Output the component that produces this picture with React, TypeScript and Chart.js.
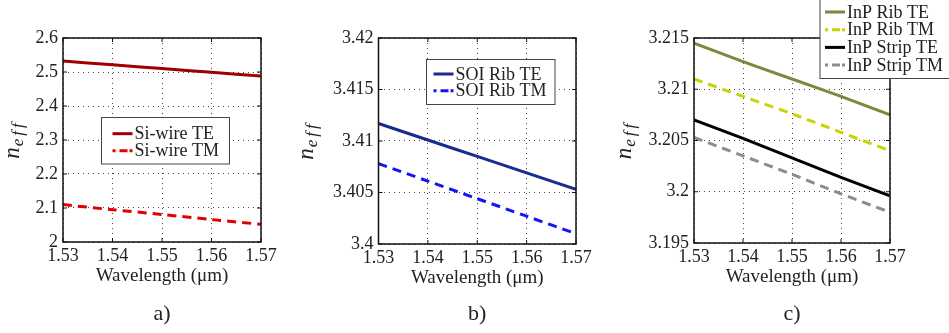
import React, { useEffect, useRef } from "react";
import { Chart, registerables } from "chart.js";
Chart.register(...registerables);

// ---------- data ----------
const wavelengths = [1.53, 1.54, 1.55, 1.56, 1.57];

const siWireTE = [2.532, 2.521, 2.510, 2.499, 2.488];
const siWireTM = [2.110, 2.095, 2.081, 2.066, 2.052];

const soiRibTE = [3.4117, 3.4101, 3.4085, 3.4069, 3.4053];
const soiRibTM = [3.4078, 3.4061, 3.4044, 3.4027, 3.4010];

const inpRibTE = [3.2145, 3.2127, 3.2110, 3.2093, 3.2075];
const inpRibTM = [3.2110, 3.2093, 3.2076, 3.2058, 3.2040];
const inpStripTE = [3.2070, 3.2052, 3.2033, 3.2014, 3.1996];
const inpStripTM = [3.2053, 3.2035, 3.2017, 3.1998, 3.1980];

const xLabel = "Wavelength (μm)";
const panelLabels = ["a)", "b)", "c)"];

// ---------- styling ----------
const FONT = "'Liberation Serif', 'Times New Roman', serif";
const W = 949;
const H = 333;

type Series = { label: string; data: number[]; color: string; dash: number[] };
type Panel = {
  series: Series[];
  yMin: number;
  yMax: number;
  yStep: number;
  area: { l: number; t: number; r: number; b: number };
  legend: { x: number; y: number; w: number; h: number; rows: number[]; sx: number };
  yTitleX: number;
  sub: string;
};

const DASH = [9, 6];

const panels: Panel[] = [
  {
    series: [
      { label: "Si-wire TE", data: siWireTE, color: "#a00000", dash: [] },
      { label: "Si-wire TM", data: siWireTM, color: "#e00000", dash: DASH },
    ],
    yMin: 2, yMax: 2.6, yStep: 0.1,
    area: { l: 63, t: 38, r: 261, b: 242 },
    legend: { x: 101.5, y: 117.5, w: 128, h: 46.5, rows: [133.7, 150.7], sx: 112.5 },
    yTitleX: 18.5,
    sub: panelLabels[0],
  },
  {
    series: [
      { label: "SOI Rib TE", data: soiRibTE, color: "#1c2a8a", dash: [] },
      { label: "SOI Rib TM", data: soiRibTM, color: "#1414f5", dash: DASH },
    ],
    yMin: 3.4, yMax: 3.42, yStep: 0.005,
    area: { l: 378.5, t: 38, r: 576, b: 244 },
    legend: { x: 426.5, y: 59.5, w: 128.5, h: 45, rows: [74, 90.7], sx: 433.5 },
    yTitleX: 313,
    sub: panelLabels[1],
  },
  {
    series: [
      { label: "InP Rib TE", data: inpRibTE, color: "#778b3b", dash: [] },
      { label: "InP Rib TM", data: inpRibTM, color: "#c8d400", dash: DASH },
      { label: "InP Strip TE", data: inpStripTE, color: "#000000", dash: [] },
      { label: "InP Strip TM", data: inpStripTM, color: "#8c8c8c", dash: DASH },
    ],
    yMin: 3.195, yMax: 3.215, yStep: 0.005,
    area: { l: 694, t: 38, r: 890, b: 243 },
    legend: { x: 820, y: -2, w: 140, h: 80.5, rows: [12, 29.7, 47.4, 65.1], sx: 825 },
    yTitleX: 631,
    sub: panelLabels[2],
  },
];

const fmt = (v: number) => String(parseFloat(Number(v).toFixed(4)));

const decorPlugin = {
  id: "decor",
  afterDraw(chart: any) {
    const p: Panel = chart.options.plugins.decor.panel;
    const ctx = chart.ctx as CanvasRenderingContext2D;
    const ca = chart.chartArea;
    ctx.save();
    // frame
    ctx.strokeStyle = "#111";
    ctx.lineWidth = 1.5;
    ctx.setLineDash([]);
    ctx.strokeRect(ca.left, ca.top, ca.right - ca.left, ca.bottom - ca.top);

    // small inner ticks on all sides
    ctx.lineWidth = 1;
    const xs = chart.scales.x;
    const ys = chart.scales.y;
    xs.ticks.forEach((t: any) => {
      const px = xs.getPixelForValue(t.value);
      ctx.beginPath();
      ctx.moveTo(px, ca.bottom); ctx.lineTo(px, ca.bottom - 4);
      ctx.moveTo(px, ca.top); ctx.lineTo(px, ca.top + 4);
      ctx.stroke();
    });
    ys.ticks.forEach((t: any) => {
      const py = ys.getPixelForValue(t.value);
      ctx.beginPath();
      ctx.moveTo(ca.left, py); ctx.lineTo(ca.left + 4, py);
      ctx.moveTo(ca.right, py); ctx.lineTo(ca.right - 4, py);
      ctx.stroke();
    });

    // legend
    const lg = p.legend;
    ctx.fillStyle = "#ffffff";
    ctx.fillRect(lg.x, lg.y, lg.w, lg.h);
    ctx.strokeStyle = "#444";
    ctx.lineWidth = 1;
    ctx.strokeRect(lg.x, lg.y, lg.w, lg.h);
    ctx.font = `18px ${FONT}`;
    ctx.textBaseline = "middle";
    ctx.textAlign = "left";
    p.series.forEach((s, i) => {
      const ry = lg.rows[i];
      ctx.strokeStyle = s.color;
      ctx.lineWidth = 3;
      ctx.setLineDash(s.dash.length ? [3, 4, 8, 2] : []);
      ctx.beginPath();
      ctx.moveTo(lg.sx, ry);
      ctx.lineTo(lg.sx + 20, ry);
      ctx.stroke();
      ctx.setLineDash([]);
      ctx.fillStyle = "#222";
      ctx.fillText(s.label, lg.sx + 22, ry + 1);
    });

    // x title
    const cx = (ca.left + ca.right) / 2;
    ctx.fillStyle = "#222";
    ctx.textAlign = "center";
    ctx.textBaseline = "middle";
    ctx.font = `19px ${FONT}`;
    ctx.fillText(xLabel, cx, ca.bottom + 34);

    // panel label
    ctx.font = `22px ${FONT}`;
    ctx.fillText(p.sub, cx, 314);

    // y title n_eff (rotated)
    const cy = (ca.top + ca.bottom) / 2;
    ctx.translate(p.yTitleX, cy);
    ctx.rotate(-Math.PI / 2);
    ctx.textAlign = "left";
    ctx.textBaseline = "alphabetic";
    ctx.font = `italic 23px ${FONT}`;
    const nW = ctx.measureText("n").width;
    ctx.font = `italic 17px ${FONT}`;
    const subChars = ["e", "f", "f"];
    const subW = subChars.reduce((a, c) => a + ctx.measureText(c).width + 3, 0);
    let x0 = -(nW + subW) / 2;
    ctx.font = `italic 23px ${FONT}`;
    ctx.fillText("n", x0, 0);
    x0 += nW + 1;
    ctx.font = `italic 17px ${FONT}`;
    subChars.forEach((c) => {
      ctx.fillText(c, x0, 4);
      x0 += ctx.measureText(c).width + 3;
    });
    ctx.restore();
  },
};

function PanelChart({ panel }: { panel: Panel }) {
  const ref = useRef<HTMLCanvasElement | null>(null);
  useEffect(() => {
    if (!ref.current) return;
    const a = panel.area;
    const chart = new Chart(ref.current, {
      type: "line",
      data: {
        datasets: panel.series.map((s) => ({
          label: s.label,
          data: wavelengths.map((x, i) => ({ x, y: s.data[i] })),
          borderColor: s.color,
          backgroundColor: s.color,
          borderWidth: 3,
          borderDash: s.dash,
          pointRadius: 0,
          tension: 0.3,
          fill: false,
        })),
      },
      options: {
        animation: false,
        responsive: false,
        events: [],
        layout: { padding: { left: 0, top: a.t, right: W - a.r, bottom: 0 } },
        plugins: {
          legend: { display: false },
          tooltip: { enabled: false },
          decor: { panel },
        } as any,
        scales: {
          x: {
            type: "linear",
            min: 1.53,
            max: 1.57,
            afterFit: (s: any) => { s.height = H - a.b; },
            ticks: {
              stepSize: 0.01,
              color: "#222",
              font: { family: FONT, size: 18 },
              padding: 3,
              callback: (v: any) => fmt(v),
              maxRotation: 0,
            },
            grid: { color: "#444", lineWidth: 1, drawTicks: false },
            border: { display: false, dash: [1, 4] },
          },
          y: {
            type: "linear",
            min: panel.yMin,
            max: panel.yMax,
            afterFit: (s: any) => { s.width = a.l; },
            ticks: {
              stepSize: panel.yStep,
              color: "#222",
              font: { family: FONT, size: 18 },
              padding: 5,
              callback: (v: any) => fmt(v),
            },
            grid: { color: "#444", lineWidth: 1, drawTicks: false },
            border: { display: false, dash: [1, 4] },
          },
        },
      } as any,
      plugins: [decorPlugin],
    });
    return () => chart.destroy();
  }, [panel]);
  return (
    <canvas
      ref={ref}
      width={W}
      height={H}
      style={{ position: "absolute", left: 0, top: 0, width: W, height: H }}
    />
  );
}

export default function App() {
  return (
    <div
      style={{
        position: "fixed",
        left: 0,
        top: 0,
        width: W,
        height: H,
        background: "#ffffff",
        overflow: "hidden",
      }}
    >
      {panels.map((p, i) => (
        <PanelChart key={i} panel={p} />
      ))}
    </div>
  );
}
